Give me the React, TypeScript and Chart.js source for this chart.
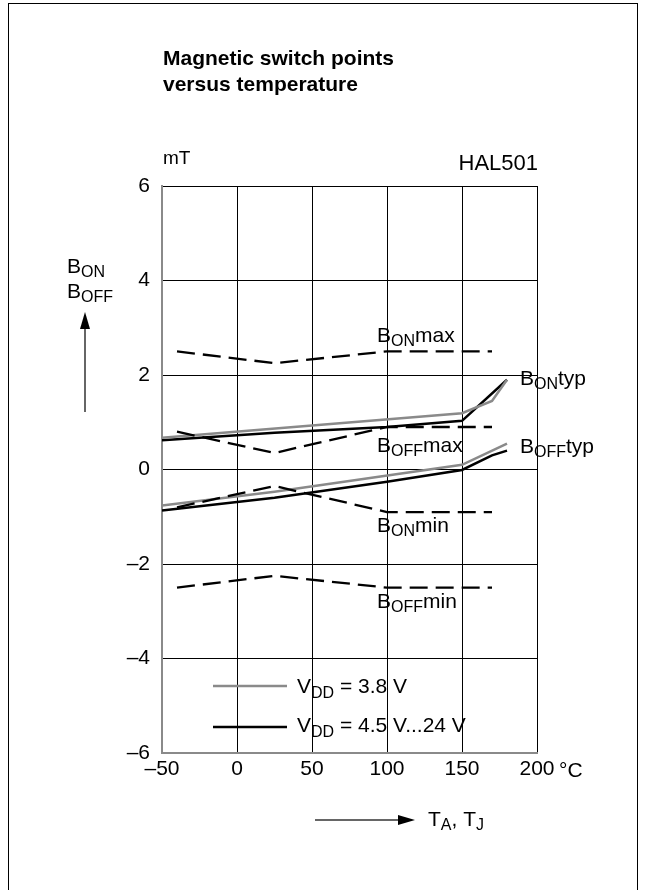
import React, { useEffect, useRef } from 'react';
import { Chart, registerables } from 'chart.js';
Chart.register(...registerables);

// Limit curves (dashed)
const tempLimits = [-40, 25, 100, 170];
const bOnMax = [2.5, 2.25, 2.5, 2.5];
const bOffMax = [0.8, 0.35, 0.9, 0.9];
const bOnMin = [-0.8, -0.35, -0.9, -0.9];
const bOffMin = [-2.5, -2.25, -2.5, -2.5];

// Typical curves, VDD = 4.5 V...24 V (black)
const tempOnTyp45 = [-50, 25, 100, 150, 180];
const bOnTyp45 = [0.62, 0.78, 0.9, 1.03, 1.9];
const tempOffTyp45 = [-50, 25, 100, 150, 170, 180];
const bOffTyp45 = [-0.87, -0.6, -0.26, -0.01, 0.3, 0.4];

// Typical curves, VDD = 3.8 V (gray)
const tempOnTyp38 = [-50, 150, 170, 180];
const bOnTyp38 = [0.67, 1.19, 1.45, 1.9];
const tempOffTyp38 = [-50, 25, 150, 180];
const bOffTyp38 = [-0.76, -0.47, 0.1, 0.55];

const xTicks = [-50, 0, 50, 100, 150, 200];
const yTicks = [-6, -4, -2, 0, 2, 4, 6];

const FONT = '"Liberation Sans", Arial, Helvetica, sans-serif';
const GRAY = '#8a8a8a';

const pts = (xs: number[], ys: number[]) => xs.map((x, i) => ({ x, y: ys[i] }));
const fmt = (v: number) => (v < 0 ? '\u2013' + Math.abs(v) : String(v));

function subText(ctx: CanvasRenderingContext2D, x: number, y: number, main: string, sub: string, rest: string, size = 21, subSize = 16, drop = 4) {
  ctx.font = `${size}px ${FONT}`;
  ctx.fillText(main, x, y);
  let w = ctx.measureText(main).width;
  ctx.font = `${subSize}px ${FONT}`;
  ctx.fillText(sub, x + w, y + drop);
  w += ctx.measureText(sub).width;
  if (rest) {
    ctx.font = `${size}px ${FONT}`;
    ctx.fillText(rest, x + w, y);
    w += ctx.measureText(rest).width;
  }
  return w;
}

const decor = {
  id: 'decor',
  afterDraw(chart: any) {
    const ctx: CanvasRenderingContext2D = chart.ctx;
    ctx.save();
    ctx.fillStyle = '#000';
    ctx.textAlign = 'left';
    ctx.textBaseline = 'alphabetic';
    // frame
    ctx.strokeStyle = '#000';
    ctx.lineWidth = 1;
    ctx.strokeRect(8.5, 3.5, 629, 900);
    // title
    ctx.font = `bold 21px ${FONT}`;
    ctx.fillText('Magnetic switch points', 163, 65);
    ctx.fillText('versus temperature', 163, 91);
    // unit and type
    ctx.font = `19px ${FONT}`;
    ctx.fillText('mT', 163, 164);
    ctx.font = `22px ${FONT}`;
    ctx.textAlign = 'right';
    ctx.fillText('HAL501', 538, 170);
    ctx.textAlign = 'left';
    ctx.font = `21px ${FONT}`;
    ctx.fillText('\u00B0C', 559, 777);
    // curve labels
    subText(ctx, 377, 342, 'B', 'ON', 'max');
    subText(ctx, 377, 452, 'B', 'OFF', 'max');
    subText(ctx, 520, 385, 'B', 'ON', 'typ');
    subText(ctx, 520, 453, 'B', 'OFF', 'typ');
    subText(ctx, 377, 532, 'B', 'ON', 'min');
    subText(ctx, 377, 608, 'B', 'OFF', 'min');
    // y label
    subText(ctx, 67, 273, 'B', 'ON', '');
    subText(ctx, 67, 298, 'B', 'OFF', '');
    // up arrow
    ctx.strokeStyle = '#333';
    ctx.lineWidth = 1.5;
    ctx.beginPath();
    ctx.moveTo(85, 412);
    ctx.lineTo(85, 326);
    ctx.stroke();
    ctx.beginPath();
    ctx.moveTo(85, 312);
    ctx.lineTo(80, 329);
    ctx.lineTo(90, 329);
    ctx.closePath();
    ctx.fill();
    // right arrow
    ctx.beginPath();
    ctx.moveTo(315, 820);
    ctx.lineTo(400, 820);
    ctx.stroke();
    ctx.beginPath();
    ctx.moveTo(415, 820);
    ctx.lineTo(398, 815);
    ctx.lineTo(398, 825);
    ctx.closePath();
    ctx.fill();
    const w = subText(ctx, 428, 826, 'T', 'A', ', T');
    ctx.font = `16px ${FONT}`;
    ctx.fillText('J', 428 + w, 830);
    // legend
    ctx.lineWidth = 2.5;
    ctx.strokeStyle = GRAY;
    ctx.beginPath();
    ctx.moveTo(213, 686);
    ctx.lineTo(287, 686);
    ctx.stroke();
    ctx.strokeStyle = '#000';
    ctx.beginPath();
    ctx.moveTo(213, 727);
    ctx.lineTo(287, 727);
    ctx.stroke();
    subText(ctx, 297, 693, 'V', 'DD', ' = 3.8 V', 21, 16, 5);
    subText(ctx, 297, 732, 'V', 'DD', ' = 4.5 V...24 V', 21, 16, 5);
    ctx.restore();
  },
};

export default function App() {
  const ref = useRef<HTMLCanvasElement>(null);
  useEffect(() => {
    if (!ref.current) return;
    const dashed = (data: any) => ({
      data,
      borderColor: '#000',
      borderWidth: 2.3,
      borderDash: [18, 8],
      pointRadius: 0,
      tension: 0,
      fill: false,
    });
    const solid = (data: any, color: string) => ({
      data,
      borderColor: color,
      borderWidth: 2.5,
      pointRadius: 0,
      tension: 0,
      fill: false,
    });
    const chart = new Chart(ref.current, {
      type: 'line',
      data: {
        datasets: [
          dashed(pts(tempLimits, bOnMax)),
          dashed(pts(tempLimits, bOffMax)),
          dashed(pts(tempLimits, bOnMin)),
          dashed(pts(tempLimits, bOffMin)),
          solid(pts(tempOnTyp38, bOnTyp38), GRAY),
          solid(pts(tempOffTyp38, bOffTyp38), GRAY),
          solid(pts(tempOnTyp45, bOnTyp45), '#000'),
          solid(pts(tempOffTyp45, bOffTyp45), '#000'),
        ] as any,
      },
      options: {
        responsive: false,
        animation: false,
        devicePixelRatio: 1,
        layout: { padding: { left: 0, top: 186, right: 109, bottom: 97 } },
        plugins: { legend: { display: false }, tooltip: { enabled: false }, title: { display: false } },
        scales: {
          x: {
            type: 'linear',
            min: -50,
            max: 200,
            afterBuildTicks: (s: any) => { s.ticks = xTicks.map((v) => ({ value: v })); },
            afterFit: (s: any) => { s.height = 40; },
            ticks: { callback: (v: any) => fmt(Number(v)), color: '#000', font: { family: FONT, size: 21 }, padding: 4, maxRotation: 0, autoSkip: false },
            grid: { color: (c: any) => (c.tick && c.tick.value === -50 ? 'rgba(0,0,0,0)' : '#000'), lineWidth: 1, drawTicks: false },
            border: { color: GRAY, width: 2 },
          },
          y: {
            type: 'linear',
            min: -6,
            max: 6,
            afterBuildTicks: (s: any) => { s.ticks = yTicks.map((v) => ({ value: v })); },
            afterFit: (s: any) => { s.width = 162; },
            ticks: { callback: (v: any) => fmt(Number(v)), color: '#000', font: { family: FONT, size: 21 }, padding: 12, autoSkip: false },
            grid: { color: (c: any) => (c.tick && c.tick.value === -6 ? 'rgba(0,0,0,0)' : '#000'), lineWidth: 1, drawTicks: false },
            border: { color: GRAY, width: 2 },
          },
        },
      } as any,
      plugins: [decor],
    });
    return () => chart.destroy();
  }, []);
  return (
    <div style={{ position: 'absolute', left: 0, top: 0, width: 646, height: 890, background: '#fff' }}>
      <canvas ref={ref} width={646} height={890} style={{ display: 'block', width: 646, height: 890 }} />
    </div>
  );
}
